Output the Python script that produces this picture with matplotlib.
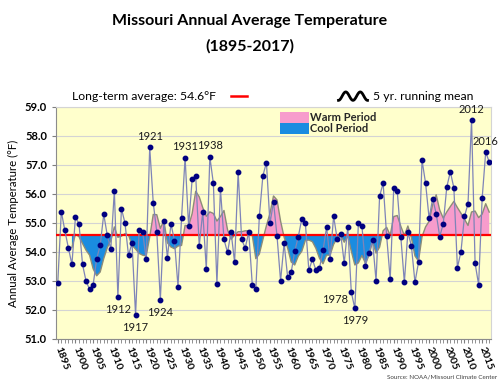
import numpy as np
import pandas as pd
import matplotlib
matplotlib.use("Agg")
import matplotlib.pyplot as plt
from matplotlib.lines import Line2D
from matplotlib.patches import Rectangle

plt.rcParams['font.family'] = ['Lato', 'DejaVu Sans']

# Missouri annual average temperature (deg F)
years = list(range(1895, 2018))
temps = [
    52.93, 55.39, 54.74, 54.14, 53.57, 55.20, 54.97, 53.57, 52.99, 52.71,  # 1895-1904
    52.86, 53.76, 54.23, 55.30, 54.57, 54.10, 56.11, 52.44, 55.49, 55.00,  # 1905-1914
    53.88, 54.31, 51.82, 54.74, 54.69, 53.74, 57.60, 55.69, 54.69, 52.34,  # 1915-1924
    55.05, 53.80, 54.97, 54.39, 52.80, 55.16, 57.25, 54.89, 56.52, 56.63,  # 1925-1934
    54.21, 55.38, 53.40, 57.28, 56.36, 52.90, 56.17, 54.43, 53.98, 54.69,  # 1935-1944
    53.64, 56.75, 54.43, 54.13, 54.69, 52.87, 52.72, 55.23, 56.63, 57.08,  # 1945-1954
    54.98, 55.72, 54.54, 53.00, 54.30, 53.13, 53.30, 54.02, 54.52, 55.14,  # 1955-1964
    55.00, 53.36, 53.75, 53.36, 53.44, 54.05, 54.85, 53.75, 55.23, 54.45,  # 1965-1974
    54.62, 53.62, 54.85, 52.61, 52.05, 54.98, 54.89, 53.53, 53.97, 54.40,  # 1975-1984
    53.00, 55.92, 56.37, 54.54, 53.05, 56.22, 56.09, 54.52, 52.95, 54.69,  # 1985-1994
    54.20, 52.95, 53.64, 57.16, 56.37, 55.16, 55.84, 55.32, 54.53, 54.97,  # 1995-2004
    56.24, 56.76, 56.21, 53.46, 54.00, 55.23, 55.66, 58.54, 53.61, 52.87,  # 2005-2014
    55.85, 57.44, 57.10,                                                   # 2015-2017
]
long_term = 54.6

# labelled years: (year, offset x, offset y, ha, va)
callouts = [
    (1912, 0, -5, 'center', 'top'),
    (1917, 0, -5, 'center', 'top'),
    (1921, 0, 4, 'center', 'bottom'),
    (1924, 0, -5, 'center', 'top'),
    (1931, 0, 4, 'center', 'bottom'),
    (1938, 0, 4, 'center', 'bottom'),
    (1978, -2, -1, 'right', 'top'),
    (1979, 0, -5, 'center', 'top'),
    (2012, 0, 4, 'center', 'bottom'),
    (2016, 0, 4, 'center', 'bottom'),
]

df = pd.DataFrame({'year': years, 'temp': temps})
# 5 yr running mean (trailing)
df['rm'] = df['temp'].rolling(5).mean()
rm_df = df.dropna()

fig = plt.figure(figsize=(5, 3.83), dpi=100)
ax = fig.add_axes([0.112, 0.115, 0.87, 0.606])
ax.set_facecolor('#ffffcc')

ax.set_ylim(51, 59)
ax.set_xlim(1894.5, 2017.5)
ax.set_yticks(np.arange(51, 59.5, 1))
ax.set_yticklabels([f"{v:.1f}" for v in np.arange(51, 59.5, 1)],
                   fontsize=8, fontweight='bold')
ax.yaxis.grid(True, color='#d4d4d4', lw=0.8)
ax.set_axisbelow(True)

ax.fill_between(rm_df['year'], rm_df['rm'], long_term,
                where=rm_df['rm'] >= long_term, interpolate=True,
                color='#f79ccc', lw=0, zorder=2)
ax.fill_between(rm_df['year'], rm_df['rm'], long_term,
                where=rm_df['rm'] < long_term, interpolate=True,
                color='#1a8ce0', lw=0, zorder=2)
ax.plot(rm_df['year'], rm_df['rm'], color='#8c8c78', lw=1.0, zorder=3)
ax.axhline(long_term, color='#ff0000', lw=1.6, zorder=4)

ax.plot(df['year'], df['temp'], color='#7e84b8', lw=0.9, zorder=5,
        marker='o', markersize=3.2, markerfacecolor='#000080',
        markeredgecolor='#000080')

temp_of = dict(zip(years, temps))
for yr, dx, dy, ha, va in callouts:
    ax.annotate(str(yr), (yr, temp_of[yr]), xytext=(dx, dy),
                textcoords='offset points', ha=ha, va=va,
                fontsize=8, color='#1a1a1a', zorder=6, annotation_clip=False)

ax.set_xticks(range(1895, 2018, 5))
ax.set_xticks(range(1895, 2018), minor=True)
ax.set_xticklabels([str(y) for y in range(1895, 2018, 5)], fontsize=7.5,
                   fontweight='bold', rotation=-70, ha='left', va='center',
                   rotation_mode='anchor')
ax.tick_params(axis='x', which='both', length=3, color='#7f7f7f', pad=3)
ax.tick_params(axis='y', length=3, color='#7f7f7f')

for side in ['left', 'bottom']:
    ax.spines[side].set_color('#8c8c8c')
for side in ['right', 'top']:
    ax.spines[side].set_color('#d4d4d4')

ax.set_ylabel('Annual Average Temperature (°F)', fontsize=8.2, labelpad=4)

fig.text(0.5, 0.945, 'Missouri Annual Average Temperature', ha='center',
         va='center', fontsize=11.5, fontweight='bold')
fig.text(0.5, 0.878, '(1895-2017)', ha='center', va='center',
         fontsize=11.5, fontweight='bold')

# top legend row
fig.text(0.144, 0.747, 'Long-term average: 54.6°F', ha='left', va='center',
         fontsize=8.8)
fig.add_artist(Line2D([0.462, 0.494], [0.749, 0.749], color='#ff0000', lw=1.8,
                      transform=fig.transFigure))
t = np.linspace(0, 1, 60)
fig.add_artist(Line2D(0.677 + 0.058 * t, 0.749 + 0.011 * -np.cos(4 * np.pi * t),
                      color='black', lw=2.0, transform=fig.transFigure))
fig.text(0.746, 0.747, '5 yr. running mean', ha='left', va='center',
         fontsize=8.8)

# warm / cool period legend
fig.add_artist(Rectangle((0.56, 0.679), 0.057, 0.029, color='#f79ccc',
                         transform=fig.transFigure, lw=0))
fig.add_artist(Rectangle((0.56, 0.650), 0.057, 0.029, color='#1a8ce0',
                         transform=fig.transFigure, lw=0))
fig.text(0.62, 0.693, 'Warm Period', ha='left', va='center', fontsize=8,
         fontweight='bold', color='#262626')
fig.text(0.62, 0.664, 'Cool Period', ha='left', va='center', fontsize=8,
         fontweight='bold', color='#262626')

fig.text(0.994, 0.016, 'Source: NOAA/Missouri Climate Center', ha='right',
         va='center', fontsize=4.5, color='#404040')

fig.savefig('out.png', dpi=100)
